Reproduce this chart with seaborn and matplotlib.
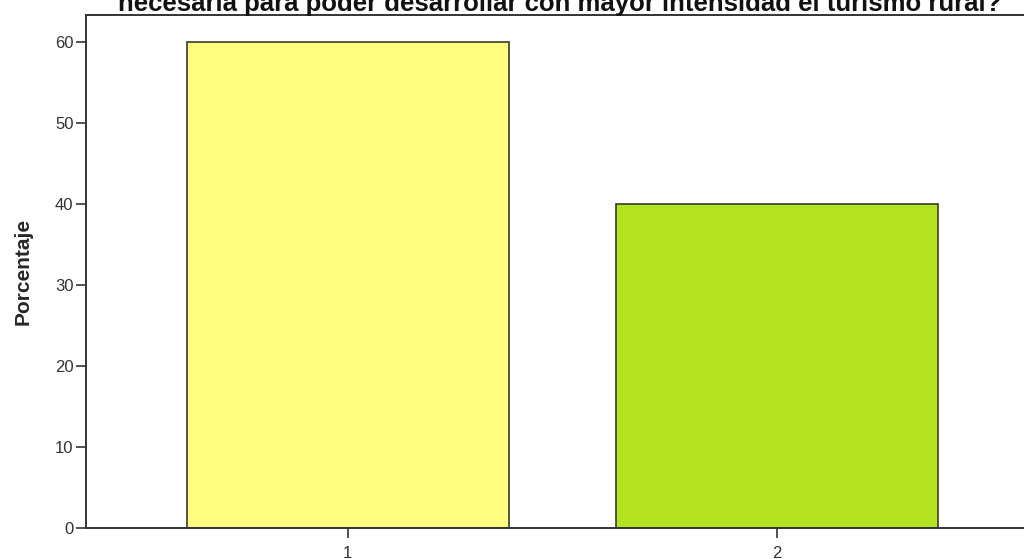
import pandas as pd
import seaborn as sns
import matplotlib.pyplot as plt

# data
categorias = ['1', '2']
porcentajes = [60, 40]
colores = ['#FFFD80', '#B4E41F']

df = pd.DataFrame({'cat': categorias, 'pct': porcentajes})

sns.set_style('white')
plt.rcParams['font.family'] = ['Liberation Sans', 'DejaVu Sans']

fig = plt.figure(figsize=(10.24, 5.59), dpi=100)
ax = fig.add_axes([86 / 1024, 1 - 528 / 559, (1039 - 86) / 1024, (528 - 15) / 559])

sns.barplot(data=df, x='cat', y='pct', hue='cat', palette=colores, width=0.75,
            saturation=1, edgecolor='#3a3a2a', linewidth=1.2, legend=False, ax=ax)

ax.set_xlim(-0.61, 1.61)
ax.set_ylim(0, 63.33)
ax.set_yticks([0, 10, 20, 30, 40, 50, 60])
ax.set_xlabel('')
ax.set_ylabel('Porcentaje', fontsize=15, fontweight='bold', labelpad=16)
ax.tick_params(axis='both', direction='out', length=7, width=1.2, color='#333333',
               labelsize=12, labelcolor='#333333', bottom=True, left=True)
ax.tick_params(axis='x', pad=6)
ax.tick_params(axis='y', pad=2)
for s in ['left', 'bottom', 'top']:
    ax.spines[s].set_color('#333333')
    ax.spines[s].set_linewidth(1.4)
ax.spines['right'].set_visible(False)

# title: only its last line shows, cut at the top as in the original
fig.text(560 / 1024, 1 - 11 / 559,
         'necesaria para poder desarrollar con mayor intensidad el turismo rural?',
         ha='center', va='baseline', fontsize=18.5, fontweight='bold', color='#111111')

fig.savefig('out.png', dpi=100)
